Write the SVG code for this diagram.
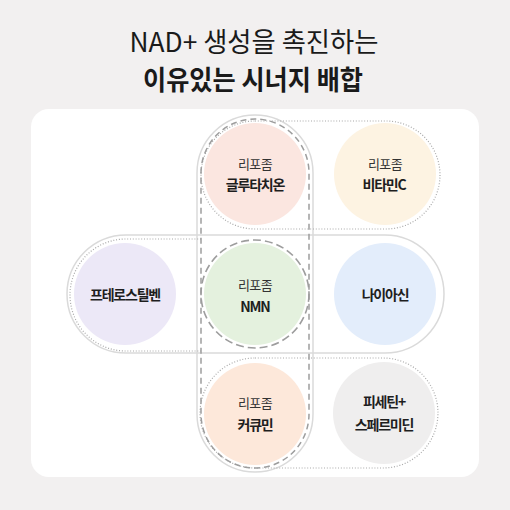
<svg xmlns="http://www.w3.org/2000/svg" width="510" height="510" viewBox="0 0 510 510">
<style>
.solid{fill:none;stroke:#dadada;stroke-width:1.5}
.dash{fill:none;stroke:#9d9d9d;stroke-width:1.5;stroke-dasharray:6 4}
.dot{fill:none;stroke:#a8a8a8;stroke-width:1.2;stroke-dasharray:1 1.8}
.sub{font-family:"Noto Sans CJK KR","Noto Sans",sans-serif;font-size:13px;font-weight:400;fill:#333;text-anchor:middle;letter-spacing:-0.6px}
.name{font-family:"Noto Sans CJK KR","Noto Sans",sans-serif;font-size:14px;font-weight:700;fill:#1e1e1e;text-anchor:middle;letter-spacing:-1.2px}
.title{font-family:"Noto Sans CJK KR","Noto Sans",sans-serif;fill:#1a1a1a;text-anchor:middle}
</style>
<rect x="0" y="0" width="510" height="510" fill="#f2f0f0"/>
<rect x="31" y="109" width="448" height="368" rx="18" fill="#ffffff"/>
<g id="title">
<text class="title" x="254" y="52" font-size="27" font-weight="400" textLength="249" lengthAdjust="spacingAndGlyphs">NAD+ 생성을 촉진하는</text>
<text class="title" x="253" y="90" font-size="27" font-weight="700" textLength="220" lengthAdjust="spacingAndGlyphs">이유있는 시너지 배합</text>
</g>
<g id="connectors">
<path class="solid" d="M197,173 A58,58 0 0 1 313,173 V414 A58,58 0 0 1 197,414 Z"/>
<path class="solid" d="M126,235 H385 A59,59 0 0 1 385,353 H126 A59,59 0 0 1 126,235 Z"/>
<path class="dot" d="M255,121 H386 A54,54 0 0 1 386,229 H255 A54,54 0 0 1 255,121 Z"/>
<path class="dot" d="M255,358 H383 A55,55 0 0 1 383,468 H255 A55,55 0 0 1 255,358 Z"/>
<path class="dot" d="M201,239 H126 A56,56 0 0 0 126,351 H201"/>
<path class="dash" d="M201,173 A54,54 0 0 1 309,173 V414 A54,54 0 0 1 201,414 Z"/>
</g>
<g id="glutathione">
<circle cx="255" cy="174" r="51" fill="#fbe6e0"/>
<text class="sub" x="255" y="169">리포좀</text>
<text class="name" x="255" y="190">글루타치온</text>
</g>
<g id="vitaminC">
<circle cx="385" cy="174" r="51" fill="#fdf3e2"/>
<text class="sub" x="385" y="169">리포좀</text>
<text class="name" x="384" y="190">비타민C</text>
</g>
<g id="pterostilbene">
<circle cx="125" cy="294" r="51" fill="#ece8f7"/>
<text class="name" x="125" y="300">프테로스틸벤</text>
</g>
<g id="nmn">
<circle cx="255" cy="294" r="51" fill="#e4f1de"/>
<circle cx="255" cy="294" r="54" fill="none" stroke="#9d9d9d" stroke-width="1.6" stroke-dasharray="8 4"/>
<text class="sub" x="255" y="290">리포좀</text>
<text class="name" x="255" y="312" letter-spacing="-0.3">NMN</text>
</g>
<g id="niacin">
<circle cx="385" cy="294" r="51" fill="#e3edfb"/>
<text class="name" x="385" y="300">나이아신</text>
</g>
<g id="curcumin">
<circle cx="255" cy="414" r="51" fill="#fde8da"/>
<text class="sub" x="255" y="408">리포좀</text>
<text class="name" x="255" y="430">커큐민</text>
</g>
<g id="fisetin">
<circle cx="384" cy="413" r="51" fill="#efeeee"/>
<text class="name" x="384" y="407">피세틴+</text>
<text class="name" x="384" y="430">스페르미딘</text>
</g>
</svg>
